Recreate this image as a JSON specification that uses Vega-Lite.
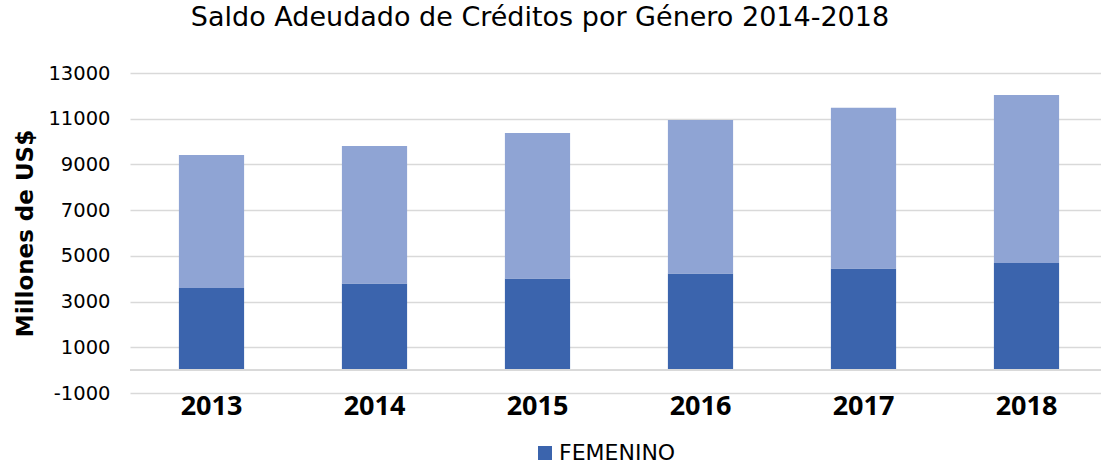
{
  "$schema": "https://vega.github.io/schema/vega-lite/v6.json",
  "width": 978,
  "height": 320,
  "autosize": {"type": "none"},
  "padding": {"left": 130, "top": 73, "right": 0, "bottom": 73},
  "background": "white",
  "title": {
    "text": "Saldo Adeudado de Créditos por Género 2014-2018",
    "font": "DejaVu Sans",
    "fontSize": 27,
    "fontWeight": "normal",
    "color": "#000000",
    "anchor": "middle",
    "dx": -79,
    "offset": 31
  },
  "config": {
    "view": {"stroke": null}
  },
  "data": {
    "values": [
      {"anio": "2013", "genero": "FEMENINO", "valor": 3592},
      {"anio": "2013", "genero": "MASCULINO", "valor": 5819},
      {"anio": "2014", "genero": "FEMENINO", "valor": 3793},
      {"anio": "2014", "genero": "MASCULINO", "valor": 6011},
      {"anio": "2015", "genero": "FEMENINO", "valor": 4012},
      {"anio": "2015", "genero": "MASCULINO", "valor": 6361},
      {"anio": "2016", "genero": "FEMENINO", "valor": 4231},
      {"anio": "2016", "genero": "MASCULINO", "valor": 6711},
      {"anio": "2017", "genero": "FEMENINO", "valor": 4450},
      {"anio": "2017", "genero": "MASCULINO", "valor": 7030},
      {"anio": "2018", "genero": "FEMENINO", "valor": 4685},
      {"anio": "2018", "genero": "MASCULINO", "valor": 7351}
    ]
  },
  "layer": [
    {
      "mark": {"type": "bar"},
      "encoding": {
        "x": {
          "field": "anio",
          "type": "nominal",
          "scale": {"paddingInner": 0.6, "paddingOuter": 0.3},
          "axis": {
            "title": null,
            "labelAngle": 0,
            "labelFont": "Open Sans",
            "labelFontSize": 27,
            "labelFontWeight": "bold",
            "labelColor": "#000000",
            "labelPadding": 0,
            "ticks": false,
            "domain": false
          }
        },
        "y": {
          "field": "valor",
          "type": "quantitative",
          "stack": "zero",
          "scale": {"domain": [-1000, 13000], "nice": false, "zero": false},
          "axis": {
            "title": "Millones de US$",
            "titleFont": "DejaVu Sans",
            "titleFontSize": 23,
            "titleFontWeight": "bold",
            "titleColor": "#000000",
            "titlePadding": 10,
            "values": [-1000, 1000, 3000, 5000, 7000, 9000, 11000, 13000],
            "labelExpr": "datum.value + ''",
            "labelFont": "DejaVu Sans",
            "labelFontSize": 19.5,
            "labelColor": "#000000",
            "labelPadding": 20,
            "ticks": false,
            "domain": false,
            "grid": true,
            "gridColor": "#d9d9d9",
            "gridWidth": 1.5
          }
        },
        "color": {
          "field": "genero",
          "type": "nominal",
          "scale": {"domain": ["FEMENINO", "MASCULINO"], "range": ["#3B64AD", "#8FA4D4"]},
          "legend": {
            "title": null,
            "values": ["FEMENINO"],
            "orient": "none",
            "legendX": 404,
            "legendY": 369,
            "symbolType": "square",
            "symbolSize": 196,
            "symbolStrokeWidth": 0,
            "labelFont": "DejaVu Sans",
            "labelFontSize": 22,
            "labelColor": "#000000",
            "labelOffset": 3
          }
        },
        "order": {"field": "genero", "sort": "ascending"}
      }
    },
    {
      "mark": {"type": "rule", "color": "#d9d9d9", "strokeWidth": 1.5},
      "encoding": {"y": {"datum": 0}}
    }
  ]
}
